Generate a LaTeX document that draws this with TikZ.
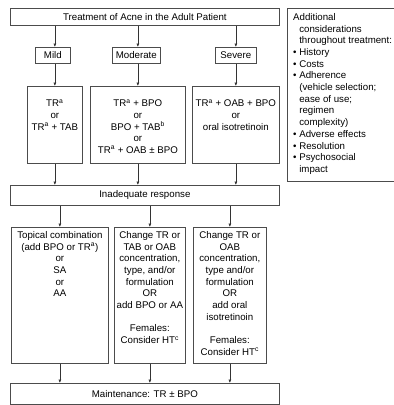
\documentclass[tikz,border=0pt]{standalone}
\usepackage{fontspec}
\setmainfont{Liberation Sans}
\usepackage{tikz}
\usetikzlibrary{arrows.meta}
\newcommand{\sq}{\phantom{\textbullet\ }}

\begin{document}
\begin{tikzpicture}[x=1pt, y=-1pt,
	box/.style={draw=black!70, line width=0.7pt, anchor=north west, inner sep=0pt, minimum height=#1},
	box/.default=16pt,
	txt/.style={font=\fontsize{9.7}{11.7}\selectfont, align=center, inner sep=0pt, anchor=north},
	arr/.style={draw=black!80, line width=0.6pt, -{Latex[length=3.5pt,width=3pt]}}]
	\useasboundingbox (0,0) rectangle (394,405);
	% top row
	\node[box=17pt, minimum width=269pt] (title) at (10,8) {};
	\node[txt, anchor=center] at (title.center) {Treatment of Acne in the Adult Patient};
	\node[box, minimum width=35pt] (mild) at (35,47) {};
	\node[txt, anchor=center] at (mild.center) {Mild};
	\node[box, minimum width=48pt] (moderate) at (112,47) {};
	\node[txt, anchor=center] at (moderate.center) {Moderate};
	\node[box, minimum width=41pt] (severe) at (215,47) {};
	\node[txt, anchor=center] at (severe.center) {Severe};
	% first treatment
	\node[box=77pt, minimum width=55pt] (tmild) at (27,86) {};
	\node[txt] at ([yshift=-12.3pt]tmild.north) {\strut TR\textsuperscript{a}\\or\\TR\textsuperscript{a} + TAB};
	\node[box=77pt, minimum width=95pt] (tmod) at (90,86) {};
	\node[txt] at ([yshift=-12.3pt]tmod.north) {\strut TR\textsuperscript{a} + BPO\\or\\BPO + TAB\textsuperscript{b}\\or\\TR\textsuperscript{a} + OAB ± BPO};
	\node[box=77pt, minimum width=87pt] (tsev) at (192,86) {};
	\node[txt] at ([yshift=-12.3pt]tsev.north) {\strut TR\textsuperscript{a} + OAB + BPO\\or\\oral isotretinoin};
	% inadequate response
	\node[box=20pt, minimum width=269pt] (inad) at (10,185) {};
	\node[txt, anchor=center] at (inad.center) {Inadequate response};
	\node[box=136pt, minimum width=97pt] (chA) at (11,227) {};
	\node[txt] at ([yshift=-3pt]chA.north) {\strut Topical combination\\(add BPO or TR\textsuperscript{a})\\or\\SA\\or\\AA};
	\node[box=136pt, minimum width=71pt] (chB) at (114,227) {};
	\node[txt] at ([yshift=-3pt]chB.north) {\strut Change TR or\\TAB or OAB\\concentration,\\type, and/or\\formulation\\OR\\add BPO or AA\\[11.7pt]Females:\\Consider HT\textsuperscript{c}};
	\node[box=136pt, minimum width=73pt] (chC) at (193,227) {};
	\node[txt] at ([yshift=-3pt]chC.north) {\strut Change TR or\\OAB\\concentration,\\type and/or\\formulation\\OR\\add oral\\isotretinoin\\[11.7pt]Females:\\Consider HT\textsuperscript{c}};
	\node[box=21pt, minimum width=269pt] (maint) at (10,383) {};
	\node[txt, anchor=center] at (maint.center) {Maintenance: TR ± BPO};
	% side notes
	\node[box=173pt, minimum width=112pt] (extra) at (287,8) {};
	\node[txt, align=left, anchor=north west] at ([xshift=6pt,yshift=-4pt]extra.north west) {\strut Additional\\\sq considerations\\\sq throughout treatment:\\\textbullet\ History\\\textbullet\ Costs\\\textbullet\ Adherence\\\sq(vehicle selection;\\\sq ease of use;\\\sq regimen\\\sq complexity)\\\textbullet\ Adverse effects\\\textbullet\ Resolution\\\textbullet\ Psychosocial\\\sq impact};
	% arrows
	\draw[arr] (title.south -| tmild.north) -- (mild.north -| tmild.north);
	\draw[arr] (mild.south -| tmild.north) -- (tmild.north);
	\draw[arr] (tmild.south) -- (inad.north -| tmild.south);
	\draw[arr] (title.south -| tmod.north) -- (moderate.north -| tmod.north);
	\draw[arr] (moderate.south -| tmod.north) -- (tmod.north);
	\draw[arr] (tmod.south) -- (inad.north -| tmod.south);
	\draw[arr] (title.south -| tsev.north) -- (severe.north -| tsev.north);
	\draw[arr] (severe.south -| tsev.north) -- (tsev.north);
	\draw[arr] (tsev.south) -- (inad.north -| tsev.south);
	\foreach \c in {chA, chB, chC} {
		\draw[arr] (inad.south -| \c.north) -- (\c.north);
		\draw[arr] (\c.south) -- (maint.north -| \c.south);
	}
\end{tikzpicture}
\end{document}
